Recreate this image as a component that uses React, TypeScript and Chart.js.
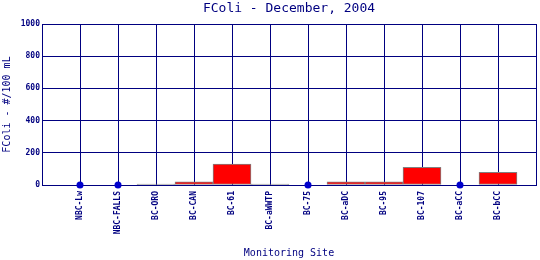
import React, { useEffect, useRef } from 'react';
import { Chart, registerables } from 'chart.js';

Chart.register(...registerables);

// ---- data ----
const sites: string[] = [
  'NBC-Lw', 'NBC-FALLS', 'BC-ORO', 'BC-CAN', 'BC-61', 'BC-aWWTP',
  'BC-75', 'BC-aDC', 'BC-95', 'BC-107', 'BC-aCC', 'BC-bCC',
];
// null = no sample (shown as a dot on the baseline)
const fcoli: (number | null)[] = [null, null, 0, 20, 130, 0, null, 20, 20, 110, null, 79];
const yMin = 0;
const yMax = 1000;
const yStep = 200;

const TITLE = 'FColi - December, 2004';
const Y_TITLE = 'FColi - #/100 mL';
const X_TITLE = 'Monitoring Site';

const NAVY = '#000080';
const BAR_FILL = '#ff0000';
const BAR_EDGE = '#808080';
const DOT = '#0000cc';
const MONO = "'DejaVu Sans Mono', 'Liberation Mono', monospace";

export default function App() {
  const ref = useRef<HTMLCanvasElement>(null);

  useEffect(() => {
    document.body.style.margin = '0';
    const barData = fcoli
      .map((v, i) => (v === null ? null : { x: i + 1, y: v }))
      .filter((d) => d !== null) as { x: number; y: number }[];
    const dotData = fcoli
      .map((v, i) => (v === null ? { x: i + 1, y: 0 } : null))
      .filter((d) => d !== null) as { x: number; y: number }[];

    const chart = new Chart(ref.current!, {
      type: 'bar',
      data: {
        datasets: [
          {
            type: 'bar',
            data: barData as any,
            xAxisID: 'x',
            yAxisID: 'y',
            backgroundColor: (c: any) => (c.raw && c.raw.y === 0 ? BAR_EDGE : BAR_FILL),
            borderColor: BAR_EDGE,
            borderWidth: 1,
            borderSkipped: false,
            barPercentage: 1,
            categoryPercentage: 1,
            minBarLength: 1,
            order: 2,
          } as any,
          {
            type: 'scatter',
            data: dotData as any,
            xAxisID: 'x',
            yAxisID: 'y',
            backgroundColor: DOT,
            borderColor: DOT,
            borderWidth: 0,
            pointRadius: 3.5,
            clip: false,
            order: 1,
          } as any,
        ],
      },
      options: {
        animation: false,
        responsive: false,
        layout: { padding: { left: 0, right: 4, top: 0, bottom: 0 } },
        plugins: {
          legend: { display: false },
          tooltip: { enabled: false },
          title: { display: false },
        },
        scales: {
          x: {
            type: 'linear',
            position: 'bottom',
            min: 0,
            max: sites.length + 1,
            offset: false,
            grid: { color: NAVY, lineWidth: 1, drawTicks: false, offset: false },
            border: { color: NAVY, width: 1 },
            ticks: {
              stepSize: 1,
              autoSkip: false,
              minRotation: 90,
              maxRotation: 90,
              padding: 6,
              color: NAVY,
              font: { family: MONO, size: 8, weight: 'bold' },
              callback: (v: any) => sites[Number(v) - 1] ?? '',
            },
            title: {
              display: true,
              text: X_TITLE,
              color: NAVY,
              font: { family: MONO, size: 10 },
              padding: { top: 0, bottom: 1 },
            },
            afterFit: (s: any) => {
              s.height = 75;
              s.paddingLeft = 0;
              s.paddingRight = 0;
            },
          },
          xTop: {
            type: 'linear',
            position: 'top',
            min: 0,
            max: 1,
            grid: { display: false },
            border: { display: false },
            ticks: { display: false },
            title: {
              display: true,
              text: TITLE,
              color: NAVY,
              font: { family: MONO, size: 13 },
              padding: { top: 1, bottom: 0 },
            },
            afterFit: (s: any) => {
              s.height = 24;
              s.paddingLeft = 0;
              s.paddingRight = 0;
            },
          },
          y: {
            type: 'linear',
            min: yMin,
            max: yMax,
            grid: { color: NAVY, lineWidth: 1, drawTicks: false },
            border: { color: NAVY, width: 1 },
            ticks: {
              stepSize: yStep,
              padding: 2,
              color: NAVY,
              font: { family: MONO, size: 8, weight: 'bold' },
              callback: (v: any) => String(v),
            },
            title: {
              display: true,
              text: Y_TITLE,
              color: NAVY,
              font: { family: MONO, size: 10 },
              padding: { top: 1, bottom: 0 },
            },
            afterFit: (s: any) => {
              s.width = 42;
              s.paddingTop = 0;
              s.paddingBottom = 0;
            },
          },
        },
      } as any,
    });
    return () => chart.destroy();
  }, []);

  return (
    <div style={{ width: 540, height: 260 }}>
      <canvas ref={ref} width={540} height={260} style={{ display: 'block', width: 540, height: 260 }} />
    </div>
  );
}
